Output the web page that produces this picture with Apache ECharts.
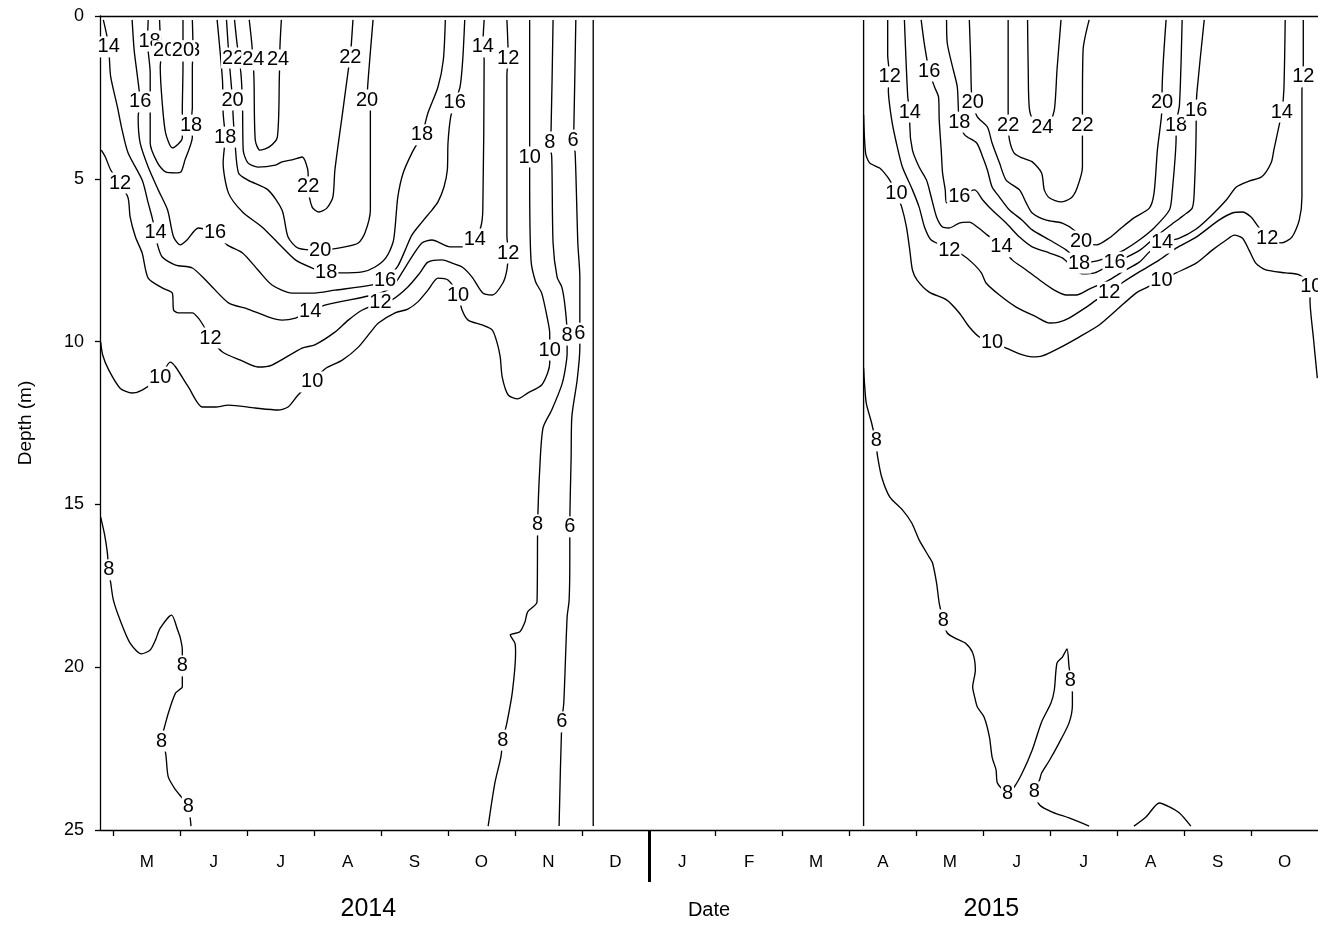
<!DOCTYPE html>
<html>
<head>
<meta charset="utf-8">
<title>Water temperature isotherms 2014-2015</title>
<script src="https://cdn.jsdelivr.net/npm/echarts@6/dist/echarts.min.js"></script>
<style>
  html, body { margin: 0; padding: 0; background: #fff; }
  #chart { width: 1318px; height: 925px; }
</style>
</head>
<body>
<div id="chart"></div>
<script>
// x: months since 1 May 2014 (0 = May 2014, 8 = Jan 2015), y: depth in metres
const monthLetters = ['M','J','J','A','S','O','N','D','J','F','M','A','M','J','J','A','S','O'];
const monthStarts = [0,1,2,3,4,5,6,7,8,9,10,11,12,13,14,15,16,17];
const monthMids = [0.5,1.5,2.5,3.5,4.5,5.5,6.5,7.5,8.5,9.5,10.5,11.5,12.5,13.5,14.5,15.5,16.5,17.5];
const yearBreak = [8];
const yearLabels = [[3.81, '2014'], [13.12, '2015']];

// ---- 2014 isotherms (°C) ----
const iso14_2014 = [[-0.15,0.12],[-0.10,0.58],[-0.07,0.95],[-0.06,1.29],[-0.04,1.87],[0.06,2.79],[0.13,3.50],[0.22,4.21],[0.43,5.04],[0.52,5.74],[0.58,6.20],[0.63,6.66],[0.66,7.03],[0.73,7.40],[0.93,7.65],[1.18,7.74],[1.42,8.20],[1.72,8.81],[2.01,9.00],[2.31,9.24],[2.52,9.34],[2.72,9.28],[2.94,9.09],[3.16,8.88],[3.81,8.60],[4.06,8.45],[4.21,8.20],[4.31,7.89],[4.46,7.40],[4.61,6.97],[4.76,6.88],[5.03,7.09],[5.22,7.09],[5.40,6.85],[5.49,6.48],[5.52,5.96],[5.54,1.35],[5.52,0.95],[5.54,0.12]];
const iso16_2014 = [[0.28,0.12],[0.31,1.04],[0.36,1.87],[0.40,2.64],[0.37,3.10],[0.40,3.90],[0.52,4.64],[0.67,5.34],[0.81,5.96],[0.90,6.79],[1.00,7.03],[1.10,6.88],[1.27,6.51],[1.52,6.66],[1.70,7.03],[1.93,7.28],[2.16,7.80],[2.37,8.26],[2.67,8.51],[2.97,8.51],[3.31,8.42],[3.87,8.26],[4.06,8.11],[4.25,7.68],[4.36,7.19],[4.46,6.73],[4.61,6.33],[4.76,5.96],[4.85,5.71],[4.94,5.25],[4.99,4.73],[5.00,3.90],[5.04,3.10],[5.10,2.67],[5.18,2.18],[5.22,1.35],[5.25,0.12]];
const iso18a_2014 = [[0.52,0.12],[0.51,0.80],[0.55,1.75],[0.55,2.89],[0.55,3.90],[0.66,4.51],[0.78,4.79],[0.93,4.82],[1.01,4.79],[1.07,4.42],[1.18,3.72],[1.16,3.35],[1.18,2.79],[1.18,1.57],[1.19,1.04],[1.18,0.12]];
const iso20a_2014 = [[0.69,0.12],[0.70,0.58],[0.72,1.07],[0.70,1.57],[0.73,2.67],[0.78,3.59],[0.88,4.05],[1.03,3.75],[1.03,2.89],[1.04,1.57],[1.04,1.07],[1.04,0.12]];
const iso18b_2014 = [[1.55,0.12],[1.63,1.97],[1.64,2.98],[1.67,3.72],[1.64,4.51],[1.72,5.44],[1.93,6.02],[2.22,6.48],[2.46,6.97],[2.72,7.49],[2.97,7.74],[3.18,7.89],[3.39,7.89],[3.72,7.86],[3.91,7.71],[4.07,7.43],[4.18,6.94],[4.21,6.48],[4.25,5.56],[4.33,4.82],[4.46,4.21],[4.61,3.65],[4.70,2.98],[4.85,2.18],[4.93,1.35],[4.96,0.12]];
const iso20b_2014 = [[1.69,0.12],[1.73,1.35],[1.78,2.58],[1.79,3.10],[1.82,3.96],[1.87,4.82],[2.01,5.04],[2.31,5.34],[2.52,5.96],[2.61,6.79],[2.76,7.13],[3.09,7.19],[3.46,7.09],[3.66,6.97],[3.76,6.66],[3.84,5.96],[3.84,2.89],[3.79,2.58],[3.81,1.87],[3.88,0.12]];
const iso22_2014 = [[1.81,0.12],[1.85,0.89],[1.88,1.29],[1.91,1.87],[1.93,2.79],[1.94,4.12],[2.01,4.51],[2.16,4.64],[2.42,4.58],[2.52,4.48],[2.67,4.42],[2.82,4.33],[2.91,4.82],[2.91,5.25],[2.97,5.87],[3.07,6.02],[3.19,5.90],[3.28,5.56],[3.31,4.73],[3.43,2.89],[3.51,1.66],[3.54,1.26],[3.58,0.12]];
const iso24_2014 = [[2.03,0.12],[2.07,0.89],[2.10,1.87],[2.12,3.81],[2.19,4.12],[2.33,4.02],[2.45,3.72],[2.48,1.87],[2.49,0.89],[2.51,0.12]];
const iso12_2014 = [[-0.18,4.12],[-0.12,4.33],[-0.04,4.73],[0.10,5.13],[0.22,5.59],[0.25,6.17],[0.33,6.79],[0.43,7.28],[0.52,8.05],[0.73,8.35],[0.88,8.51],[0.90,9.03],[0.97,9.12],[1.18,9.12],[1.27,9.28],[1.34,9.49],[1.45,9.89],[1.63,10.32],[1.90,10.57],[2.16,10.78],[2.37,10.72],[2.82,10.20],[3.01,10.10],[3.31,9.71],[3.51,9.34],[3.72,9.03],[3.99,8.81],[4.16,8.72],[4.40,8.32],[4.58,7.89],[4.70,7.56],[4.91,7.49],[5.06,7.59],[5.21,7.71],[5.36,8.02],[5.52,8.51],[5.66,8.57],[5.82,8.20],[5.88,7.80],[5.90,7.28],[5.88,6.73],[5.88,1.81],[5.90,1.29],[5.88,0.12]];
const iso10_2014 = [[-0.19,10.01],[-0.16,10.41],[-0.07,10.87],[0.10,11.43],[0.28,11.58],[0.43,11.49],[0.70,11.09],[0.85,10.63],[0.93,10.78],[1.12,11.39],[1.33,12.01],[1.52,12.01],[1.72,11.95],[2.12,12.04],[2.46,12.10],[2.61,12.01],[2.76,11.64],[2.97,11.24],[3.16,10.84],[3.42,10.57],[3.66,10.17],[3.87,9.64],[3.96,9.43],[4.21,9.12],[4.40,9.00],[4.55,8.78],[4.70,8.42],[4.85,8.05],[5.00,8.11],[5.15,8.57],[5.21,9.03],[5.30,9.34],[5.51,9.49],[5.66,9.64],[5.73,10.01],[5.78,10.47],[5.81,11.09],[5.90,11.64],[6.04,11.76],[6.19,11.58],[6.40,11.33],[6.49,10.96],[6.52,10.66],[6.52,10.26],[6.52,9.74],[6.49,9.34],[6.40,8.51],[6.31,8.17],[6.24,7.49],[6.22,4.88],[6.22,4.33],[6.22,0.12]];
const iso8r_2014 = [[6.57,0.12],[6.54,3.50],[6.52,3.87],[6.55,4.33],[6.57,6.97],[6.63,8.02],[6.70,8.32],[6.75,8.94],[6.78,9.80],[6.78,10.35],[6.75,10.87],[6.70,11.33],[6.55,12.10],[6.42,12.65],[6.37,13.94],[6.34,15.63],[6.33,18.00],[6.19,18.30],[6.15,18.61],[6.07,18.92],[5.93,19.01],[6.00,19.26],[6.01,19.56],[5.96,20.79],[5.88,21.71],[5.82,22.24],[5.79,22.76],[5.70,23.56],[5.60,24.88]];
const iso6_2014 = [[6.91,0.12],[6.88,3.50],[6.87,3.81],[6.90,4.21],[6.94,6.97],[6.97,8.02],[6.97,9.74],[6.97,10.20],[6.93,11.18],[6.85,12.32],[6.84,13.54],[6.82,15.69],[6.82,16.71],[6.81,17.94],[6.78,18.46],[6.73,21.10],[6.70,21.68],[6.66,24.88]];
const iso8l_2014 = [[-0.19,15.39],[-0.13,15.94],[-0.09,16.49],[-0.07,17.01],[-0.04,17.41],[0.00,17.94],[0.10,18.55],[0.25,19.26],[0.42,19.59],[0.55,19.47],[0.63,19.16],[0.70,18.80],[0.87,18.40],[0.96,18.86],[1.00,19.10],[1.03,19.47],[1.03,19.96],[1.03,20.61],[1.00,20.67],[0.93,20.79],[0.85,21.22],[0.78,21.71],[0.72,22.27],[0.78,22.63],[0.82,23.37],[0.93,23.77],[1.03,24.02],[1.12,24.29],[1.16,24.88]];
const edge_2014 = [[7.17,0.12],[7.17,24.88]];

// ---- 2015 isotherms (°C) ----
const edge_2015 = [[11.21,0.12],[11.21,24.88]];
const iso12_2015 = [[11.57,0.12],[11.57,1.20],[11.60,1.87],[11.58,2.27],[11.63,3.19],[11.70,3.90],[11.79,4.64],[11.94,5.34],[12.04,5.87],[12.12,6.48],[12.22,6.88],[12.49,7.13],[12.69,7.34],[12.84,7.59],[12.97,7.89],[13.04,8.20],[13.24,8.57],[13.49,8.94],[13.79,9.24],[13.99,9.43],[14.13,9.40],[14.28,9.28],[14.54,8.94],[14.69,8.72],[14.88,8.48],[15.07,8.20],[15.33,7.86],[15.63,7.49],[15.88,7.13],[16.18,6.79],[16.52,6.27],[16.72,6.05],[16.87,6.02],[17.00,6.17],[17.07,6.36],[17.24,6.82],[17.45,6.97],[17.61,6.79],[17.72,6.27],[17.76,5.56],[17.76,2.27],[17.78,1.87],[17.78,0.12]];
const iso14_2015 = [[11.82,0.12],[11.87,2.49],[11.90,2.95],[11.90,3.35],[11.94,4.12],[12.04,4.64],[12.15,5.04],[12.22,5.56],[12.30,6.17],[12.39,6.48],[12.49,6.51],[12.64,6.36],[12.79,6.33],[12.91,6.48],[13.06,6.73],[13.27,7.09],[13.43,7.49],[13.64,7.80],[13.84,8.11],[14.06,8.42],[14.24,8.57],[14.39,8.57],[14.58,8.39],[14.85,8.14],[15.10,7.83],[15.33,7.56],[15.48,7.25],[15.67,6.97],[15.93,6.82],[16.18,6.54],[16.40,6.14],[16.63,5.65],[16.78,5.25],[16.97,5.07],[17.16,4.94],[17.30,4.51],[17.34,4.12],[17.42,3.35],[17.46,2.95],[17.49,2.27],[17.51,0.12]];
const iso16_2015 = [[12.07,0.12],[12.12,0.89],[12.19,1.69],[12.27,2.18],[12.33,2.49],[12.34,3.19],[12.37,4.12],[12.39,4.82],[12.43,5.34],[12.45,5.74],[12.64,5.53],[12.87,5.34],[12.99,5.65],[13.13,5.96],[13.34,6.36],[13.54,6.79],[13.73,7.09],[13.99,7.28],[14.18,7.43],[14.33,7.71],[14.48,7.92],[14.66,7.89],[14.81,7.74],[14.96,7.56],[15.15,7.40],[15.36,7.16],[15.57,6.79],[15.78,6.45],[16.00,6.11],[16.12,5.90],[16.15,5.44],[16.18,3.19],[16.18,2.89],[16.19,2.36],[16.30,0.12]];
const iso18_2015 = [[12.45,0.12],[12.46,0.83],[12.54,1.57],[12.61,2.18],[12.64,3.26],[12.72,3.65],[12.90,3.90],[12.99,4.33],[13.06,4.73],[13.13,5.25],[13.24,5.56],[13.39,5.96],[13.58,6.27],[13.73,6.57],[13.99,6.88],[14.24,7.19],[14.36,7.43],[14.43,7.59],[14.70,7.52],[14.91,7.37],[15.10,7.19],[15.33,6.88],[15.55,6.51],[15.78,5.96],[15.82,5.44],[15.88,3.72],[15.88,3.35],[15.93,2.73],[15.97,0.12]];
const iso20_2015 = [[12.79,0.12],[12.81,1.35],[12.82,2.27],[12.84,2.67],[12.91,3.10],[13.06,3.41],[13.13,3.90],[13.24,4.51],[13.34,5.04],[13.54,5.34],[13.64,5.74],[13.73,6.05],[13.94,6.27],[14.18,6.36],[14.39,6.63],[14.46,6.91],[14.69,7.03],[14.88,6.82],[15.06,6.51],[15.25,6.20],[15.48,5.90],[15.55,5.44],[15.60,4.12],[15.66,3.10],[15.67,2.67],[15.67,2.36],[15.73,0.12]];
const iso22_2015 = [[13.37,0.12],[13.37,2.89],[13.37,3.35],[13.39,3.81],[13.46,4.21],[13.58,4.36],[13.73,4.48],[13.87,4.82],[13.91,5.34],[13.99,5.59],[14.16,5.71],[14.31,5.59],[14.40,5.28],[14.48,4.64],[14.48,3.72],[14.48,3.35],[14.48,2.89],[14.49,1.04],[14.58,0.12]];
const iso24_2015 = [[13.66,0.12],[13.67,1.66],[13.69,2.89],[13.79,3.38],[13.88,3.50],[13.97,3.38],[14.06,2.89],[14.10,1.66],[14.16,0.12]];
const iso10_2015 = [[11.21,3.04],[11.24,4.21],[11.30,4.51],[11.45,4.67],[11.52,4.82],[11.60,5.04],[11.70,5.44],[11.78,5.87],[11.85,6.48],[11.90,7.19],[11.94,7.80],[12.01,8.11],[12.19,8.48],[12.45,8.72],[12.64,9.12],[12.79,9.55],[12.94,9.86],[13.13,10.04],[13.34,10.20],[13.54,10.38],[13.73,10.47],[13.88,10.44],[14.13,10.20],[14.43,9.86],[14.73,9.49],[14.99,9.03],[15.28,8.51],[15.43,8.35],[15.66,8.11],[15.88,7.89],[16.18,7.59],[16.42,7.19],[16.63,6.88],[16.75,6.73],[16.87,6.82],[16.97,7.19],[17.07,7.59],[17.22,7.80],[17.52,7.89],[17.72,7.95],[17.90,8.32],[17.88,8.72],[17.93,9.86],[17.99,11.12]];
const iso8_2015 = [[11.21,10.81],[11.22,11.18],[11.25,11.89],[11.33,12.50],[11.39,13.08],[11.42,13.54],[11.48,14.16],[11.60,14.77],[11.79,15.17],[11.93,15.57],[12.04,16.09],[12.19,16.62],[12.24,16.80],[12.30,17.41],[12.34,18.03],[12.40,18.55],[12.46,18.95],[12.60,19.13],[12.73,19.26],[12.84,19.56],[12.88,20.09],[12.84,20.61],[12.87,20.92],[12.91,21.22],[13.01,21.53],[13.09,22.14],[13.13,22.76],[13.19,23.16],[13.21,23.56],[13.36,23.86],[13.46,23.68],[13.58,23.25],[13.73,22.54],[13.87,21.68],[14.01,21.10],[14.06,20.70],[14.10,19.87],[14.18,19.69],[14.25,19.44],[14.28,19.99],[14.31,20.39],[14.33,20.79],[14.33,21.16],[14.28,21.71],[14.13,22.33],[13.99,22.85],[13.87,23.25],[13.84,23.46],[13.76,23.83],[13.84,24.23],[14.03,24.45],[14.28,24.63],[14.58,24.88]];
const iso8b_2015 = [[15.25,24.88],[15.43,24.60],[15.63,24.17],[15.78,24.29],[15.93,24.48],[16.10,24.88]];

// Contour labels: [month, depth, level text]
const contourLabels = [
  [0.54,0.77,'18'],[1.13,1.07,'18'],[0.76,1.07,'20'],[1.04,1.07,'20'],
  [-0.07,0.95,'14'],[1.79,1.29,'22'],[2.09,1.35,'24'],[2.46,1.35,'24'],[3.54,1.26,'22'],
  [5.52,0.95,'14'],[5.90,1.29,'12'],[0.40,2.64,'16'],[1.78,2.58,'20'],[3.79,2.58,'20'],
  [5.10,2.67,'16'],[1.16,3.35,'18'],[1.67,3.72,'18'],[4.61,3.65,'18'],[6.22,4.33,'10'],
  [6.52,3.87,'8'],[6.87,3.81,'6'],[0.10,5.13,'12'],[2.91,5.25,'22'],[0.63,6.66,'14'],
  [1.52,6.66,'16'],[3.09,7.19,'20'],[5.40,6.85,'14'],[5.90,7.28,'12'],[3.18,7.89,'18'],
  [4.06,8.11,'16'],[2.94,9.09,'14'],[3.99,8.81,'12'],[5.15,8.57,'10'],[1.45,9.89,'12'],
  [6.52,10.26,'10'],[6.78,9.80,'8'],[6.97,9.74,'6'],[0.70,11.09,'10'],[2.97,11.24,'10'],
  [-0.07,17.01,'8'],[6.34,15.63,'8'],[6.82,15.69,'6'],[1.03,19.96,'8'],[0.72,22.27,'8'],
  [5.82,22.24,'8'],[6.70,21.68,'6'],[1.12,24.29,'8'],
  [11.60,1.87,'12'],[12.19,1.69,'16'],[11.90,2.95,'14'],[12.84,2.67,'20'],[12.64,3.26,'18'],
  [13.37,3.35,'22'],[13.88,3.41,'24'],[14.48,3.35,'22'],[15.67,2.67,'20'],[15.88,3.35,'18'],
  [16.18,2.89,'16'],[17.46,2.95,'14'],[17.78,1.87,'12'],[11.70,5.44,'10'],[12.64,5.53,'16'],
  [12.49,7.19,'12'],[13.27,7.09,'14'],[14.46,6.91,'20'],[14.43,7.59,'18'],[14.96,7.56,'16'],
  [15.67,6.97,'14'],[17.24,6.82,'12'],[14.88,8.48,'12'],[15.66,8.11,'10'],[13.13,10.04,'10'],
  [17.90,8.32,'10'],[11.40,13.05,'8'],[12.40,18.55,'8'],[14.30,20.42,'8'],[13.36,23.89,'8'],
  [13.76,23.83,'8']
];

const contourLines = [
  iso14_2014, iso16_2014, iso18a_2014, iso20a_2014, iso18b_2014, iso20b_2014, iso22_2014,
  iso24_2014, iso12_2014, iso10_2014, iso8r_2014, iso6_2014, iso8l_2014, edge_2014,
  edge_2015, iso12_2015, iso14_2015, iso16_2015, iso18_2015, iso20_2015, iso22_2015,
  iso24_2015, iso10_2015, iso8_2015, iso8b_2015
];

const FONT = 'Liberation Sans, Arial, Helvetica, sans-serif';
const X_MIN = -0.2, X_MAX = 18;
const INK = '#000';

const chart = echarts.init(document.getElementById('chart'), null, { renderer: 'canvas' });

const lineSeries = contourLines.map(pts => ({
  type: 'line',
  data: pts,
  showSymbol: false,
  symbol: 'none',
  smooth: 0.25,
  clip: true,
  z: 2,
  lineStyle: { color: INK, width: 1.35, opacity: 1 },
  silent: true
}));

// level numbers sit on the isolines, their white box breaks the line underneath
const labelSeries = {
  type: 'scatter',
  data: contourLabels,
  symbol: 'circle',
  symbolSize: 0,
  z: 5,
  itemStyle: { color: INK, opacity: 1 },
  label: {
    show: true,
    position: 'inside',
    formatter: p => p.data[2],
    color: INK,
    opacity: 1,
    fontFamily: FONT,
    fontSize: 20,
    textBorderWidth: 0,
    textBorderColor: 'transparent',
    backgroundColor: '#fff',
    padding: [1, 1, 0, 1]
  },
  emphasis: { disabled: true },
  silent: true
};

const plainAxis = (extra) => Object.assign({
  type: 'value', min: X_MIN, max: X_MAX, gridIndex: 0, offset: 0,
  axisLine: { show: false, onZero: false },
  axisTick: { show: false },
  axisLabel: { show: false },
  splitLine: { show: false }
}, extra);

chart.setOption({
  animation: false,
  backgroundColor: '#fff',
  textStyle: { fontFamily: FONT, color: INK },
  grid: { left: 100, top: 16, width: 1218, height: 814, containLabel: false },
  xAxis: [
    plainAxis({
      position: 'bottom',
      axisLine: { show: true, onZero: false, lineStyle: { color: INK, width: 1.3 } },
      axisTick: { show: true, customValues: monthStarts, length: 6, inside: false, lineStyle: { color: INK, width: 1.3 } },
      axisLabel: {
        show: true, customValues: monthMids, margin: 24, fontSize: 17, color: INK, fontFamily: FONT,
        formatter: v => monthLetters[Math.floor(v + 1e-6)] || ''
      },
      name: 'Date', nameLocation: 'middle', nameGap: 70,
      nameTextStyle: { fontSize: 20, color: INK, fontFamily: FONT }
    }),
    plainAxis({
      position: 'bottom',
      axisTick: { show: true, customValues: yearBreak, length: 52, inside: false, lineStyle: { color: INK, width: 3 } }
    }),
    plainAxis({
      position: 'top',
      axisLine: { show: true, onZero: false, lineStyle: { color: INK, width: 1.3 } }
    }),
    plainAxis({
      position: 'bottom',
      axisLabel: {
        show: true, customValues: yearLabels.map(d => d[0]), margin: 67, fontSize: 25, color: INK, fontFamily: FONT,
        formatter: v => {
          const hit = yearLabels.find(d => Math.abs(d[0] - v) < 1e-6);
          return hit ? hit[1] : '';
        }
      }
    })
  ],
  yAxis: {
    type: 'value', inverse: true, min: 0, max: 25, interval: 5, position: 'left', offset: 0,
    axisLine: { show: true, onZero: false, lineStyle: { color: INK, width: 1.3 } },
    axisTick: { show: true, length: 5, inside: false, lineStyle: { color: INK, width: 1.3 } },
    axisLabel: { fontSize: 18, margin: 16, color: INK, fontFamily: FONT },
    splitLine: { show: false },
    name: 'Depth (m)', nameLocation: 'middle', nameGap: 65, nameRotate: 90,
    nameTextStyle: { fontSize: 19, color: INK, fontFamily: FONT }
  },
  series: [...lineSeries, labelSeries]
});
</script>
</body>
</html>
